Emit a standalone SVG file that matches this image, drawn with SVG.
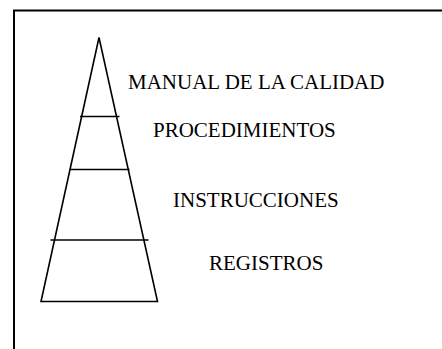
<svg xmlns="http://www.w3.org/2000/svg" width="442" height="349" viewBox="0 0 442 349">
  <style>
    .ln { stroke: #000; stroke-width: 1.6; fill: none; }
    .lbl { font-family: "Liberation Serif", "Times New Roman", serif; font-size: 21px; fill: #000; }
  </style>
  <rect x="0" y="0" width="442" height="349" fill="#fff"/>
  <g id="frame">
    <path d="M14 349 V10.5 H442" stroke="#000" stroke-width="2" fill="none"/>
  </g>
  <g id="pyramid">
    <path class="ln" d="M99 37.5 L41 301.5 H157.5 Z" stroke-linejoin="miter"/>
  </g>
  <g id="connectors">
    <line class="ln" x1="80" y1="116.5" x2="119.5" y2="116.5"/>
    <line class="ln" x1="69.5" y1="169.5" x2="129.5" y2="169.5"/>
    <line class="ln" x1="50.5" y1="240" x2="148.5" y2="240"/>
  </g>
  <g id="node-manual"><text class="lbl" x="128" y="89">MANUAL DE LA CALIDAD</text></g>
  <g id="node-procedimientos"><text class="lbl" x="153" y="137">PROCEDIMIENTOS</text></g>
  <g id="node-instrucciones"><text class="lbl" x="173" y="207">INSTRUCCIONES</text></g>
  <g id="node-registros"><text class="lbl" x="209" y="270">REGISTROS</text></g>
</svg>
